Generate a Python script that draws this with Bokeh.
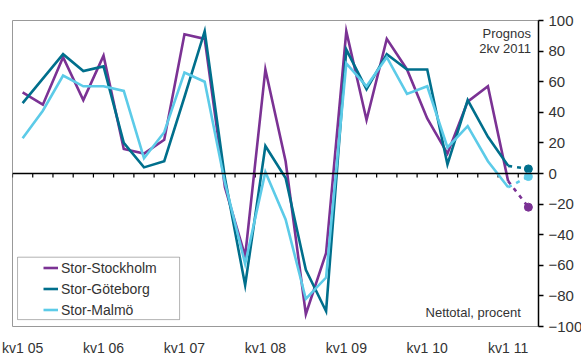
import numpy as np
from bokeh.plotting import figure
from bokeh.models import (FixedTicker, Span, Legend, LegendItem, BoxAnnotation,
                          Label, Range1d)
from bokeh.embed import file_html
from bokeh.resources import INLINE

# ---------------- data ----------------
years = ["05", "06", "07", "08", "09", "10", "11"]
quarters = [f"kv{q} {y}" for y in years for q in range(1, 5)][:25]  # kv1 05 .. kv1 11
tick_labels = [f"kv1 {y}" for y in years]

stockholm = [53, 45, 76, 48, 77, 16, 13, 22, 91, 88, -9, -54, 68, 8, -92, -52,
             93, 35, 88, 68, 36, 13, 47, 57, -5]
goteborg = [46, 62, 78, 67, 70, 20, 4, 8, 50, 93, -3, -73, 18, -3, -63, -90,
            81, 55, 78, 68, 68, 6, 48, 24, 5]
malmo = [23, 41, 64, 57, 57, 54, 10, 27, 66, 60, -6, -59, 1, -30, -82, -68,
         72, 57, 76, 52, 57, 17, 31, 8, -9]
forecast_label = "kv2 11"
forecast = {"Stor-Stockholm": -22, "Stor-Göteborg": 3, "Stor-Malmö": -2}

series_names = ["Stor-Stockholm", "Stor-Göteborg", "Stor-Malmö"]
series_values = [stockholm, goteborg, malmo]
colors = ["#7b3294", "#006f8c", "#5ccbe8"]

# ---------------- figure ----------------
FONT = "Liberation Sans"
TXT = "#333333"
n = len(quarters)
xs = np.arange(n)

p = figure(frame_width=526, frame_height=306, output_backend="svg", toolbar_location=None,
           x_range=Range1d(-0.5, n + 0.5), y_range=Range1d(-100, 100),
           y_axis_location="right", min_border_left=12, min_border_top=20,
           min_border_right=43, min_border_bottom=0)
p.grid.visible = False
p.outline_line_color = "#999999"
p.outline_line_width = 1
p.background_fill_color = "white"
p.border_fill_color = "white"

# right y axis
ya = p.yaxis[0]
ya.ticker = FixedTicker(ticks=list(range(-100, 101, 20)))
ya.axis_line_color = "black"
ya.axis_line_width = 1.5
ya.major_tick_line_color = "black"
ya.major_tick_line_width = 1.5
ya.major_tick_out = 5
ya.major_tick_in = 0
ya.minor_tick_line_color = None
ya.major_label_standoff = 5
ya.major_label_text_font = FONT
ya.major_label_text_font_size = "15px"
ya.major_label_text_color = TXT

# bottom x axis (labels only)
xa = p.xaxis[0]
tick_pos = [i for i, q in enumerate(quarters) if q.startswith("kv1")]
xa.ticker = FixedTicker(ticks=tick_pos)
xa.major_label_overrides = {i: tick_labels[k] for k, i in enumerate(tick_pos)}
xa.axis_line_color = None
xa.major_tick_line_color = None
xa.minor_tick_line_color = None
xa.major_label_standoff = 7
xa.major_label_text_font = FONT
xa.major_label_text_font_size = "14px"
xa.major_label_text_color = TXT

# zero line with quarter ticks
p.add_layout(Span(location=0, dimension="width", line_color="black", line_width=1.5))
bx = np.arange(-0.5, n + 0.5, 1.0)
p.segment(x0=bx, x1=bx, y0=np.zeros_like(bx), y1=np.full_like(bx, -2.6),
          line_color="black", line_width=1.2)

renderers = []
for name, vals, col in zip(series_names, series_values, colors):
    r = p.line(xs, vals, line_color=col, line_width=2.6, line_join="miter")
    renderers.append(r)
    fx = [n - 1, n]
    fy = [vals[-1], forecast[name]]
    p.line(fx, fy, line_color=col, line_width=2.6, line_dash="4 5")
    p.scatter([n], [forecast[name]], size=8, fill_color=col, line_color=col)

# legend
legend = Legend(items=[LegendItem(label=nm, renderers=[r]) for nm, r in zip(series_names, renderers)],
                location=(31, 6), padding=0, spacing=0, margin=0,
                glyph_width=15, glyph_height=21, label_height=21, label_standoff=3,
                label_text_font=FONT, label_text_font_size="14px", label_text_color=TXT,
                border_line_alpha=0, background_fill_alpha=0)
p.add_layout(legend)
p.add_layout(BoxAnnotation(left=-0.25, right=7.76, top=-54.7, bottom=-95.5,
                           fill_color=None, line_color="black", line_width=1))

# annotations
for txt, yy in [("Prognos", 91.7), ("2kv 2011", 82.0)]:
    p.add_layout(Label(x=25.13, y=yy, text=txt, text_align="right", text_baseline="middle",
                       text_font=FONT, text_font_size="13px", text_color=TXT))
p.add_layout(Label(x=24.63, y=-90.9, text="Nettotal, procent", text_align="right",
                   text_baseline="middle", text_font=FONT, text_font_size="13px", text_color=TXT))

open("out.html", "w").write(file_html(p, INLINE))
